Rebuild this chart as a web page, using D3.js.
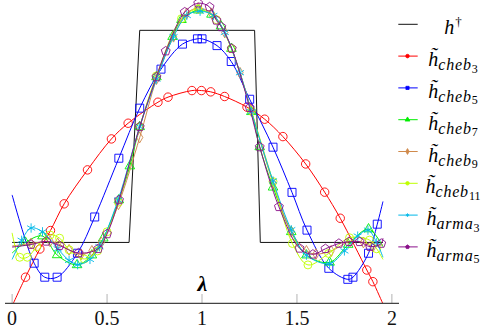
<!DOCTYPE html>
<html><head><meta charset="utf-8">
<script src="https://cdn.jsdelivr.net/npm/d3@7"></script>
<style>html,body{margin:0;padding:0;background:#fff;} svg{display:block}</style>
</head><body>
<svg id="c" width="497" height="332"></svg>
<script>
// ---------- data ----------
const xTicks = [0, 0.5, 1, 1.5, 2];
const xTickLabels = ["0", "0.5", "1", "1.5", "2"];

const stepLam = [0, 0.616, 0.672, 1.277, 1.307, 1.953];
const stepVal = [0, 0, 1, 1, 0, 0];

const cheb3Lam = [0, 0.0705, 0.146, 0.202, 0.274, 0.397, 0.523, 0.611, 0.768, 0.821, 0.947, 0.997, 1.046, 1.119, 1.237, 1.330, 1.426, 1.546, 1.646, 1.728, 1.868, 1.900, 1.953];
const cheb3Val = [-0.30, -0.164, -0.031, 0.056, 0.182, 0.342, 0.488, 0.562, 0.661, 0.685, 0.716, 0.716, 0.710, 0.688, 0.638, 0.581, 0.499, 0.370, 0.237, 0.114, -0.130, -0.185, -0.29];

const cheb5Lam = [0, 0.116, 0.172, 0.237, 0.344, 0.435, 0.562, 0.672, 0.784, 0.897, 0.976, 1.0, 1.079, 1.154, 1.251, 1.374, 1.474, 1.553, 1.668, 1.768, 1.795, 1.877, 1.923, 1.953];
const cheb5Val = [0.224, -0.098, -0.164, -0.164, -0.051, 0.120, 0.397, 0.633, 0.817, 0.935, 0.960, 0.960, 0.928, 0.853, 0.675, 0.449, 0.236, 0.058, -0.122, -0.174, -0.164, -0.051, 0.086, 0.193];

const cheb7Lam = [0, 0.07, 0.16, 0.237, 0.342, 0.42, 0.48, 0.562, 0.62, 0.672, 0.76, 0.845, 0.892, 0.98, 1.05, 1.1, 1.155, 1.26, 1.304, 1.374, 1.47, 1.55, 1.672, 1.77, 1.877, 1.953];
const cheb7Val = [-0.05, 0.0, 0.03, -0.059, -0.106, -0.06, 0.02, 0.2, 0.36, 0.545, 0.78, 0.97, 1.05, 1.095, 1.075, 1.02, 0.914, 0.616, 0.45, 0.26, 0.05, -0.06, -0.094, -0.01, 0.063, -0.02];

const cheb9Lam = [0, 0.1, 0.2, 0.24, 0.3, 0.363, 0.42, 0.47, 0.56, 0.672, 0.76, 0.85, 0.92, 0.98, 1.05, 1.12, 1.2, 1.26, 1.374, 1.47, 1.55, 1.6, 1.68, 1.78, 1.85, 1.9, 1.953];
const cheb9Val = [-0.017, -0.005, 0.005, -0.005, -0.035, -0.057, -0.04, 0.0, 0.18, 0.495, 0.77, 0.97, 1.08, 1.105, 1.08, 0.99, 0.8, 0.62, 0.28, 0.05, -0.04, -0.055, -0.04, 0.005, 0.0, -0.02, -0.01];

const cheb11Lam = [0, 0.04, 0.08, 0.13, 0.2, 0.25, 0.3, 0.38, 0.45, 0.5, 0.56, 0.672, 0.76, 0.892, 0.98, 1.076, 1.155, 1.26, 1.374, 1.476, 1.558, 1.667, 1.777, 1.882, 1.92, 1.953];
const cheb11Val = [0.045, -0.07, -0.07, -0.02, 0.035, 0.02, -0.035, -0.078, -0.04, 0.05, 0.19, 0.545, 0.785, 1.055, 1.1, 1.05, 0.914, 0.62, 0.287, -0.005, -0.106, -0.052, 0.022, 0.011, -0.03, -0.08];

const arma3Lam = [0, 0.05, 0.1, 0.16, 0.24, 0.3, 0.345, 0.41, 0.46, 0.558, 0.672, 0.76, 0.85, 0.92, 0.99, 1.06, 1.12, 1.2, 1.26, 1.374, 1.47, 1.55, 1.672, 1.75, 1.82, 1.874, 1.92, 1.953];
const arma3Val = [-0.08, 0.01, 0.068, 0.05, -0.03, -0.085, -0.105, -0.08, -0.02, 0.2, 0.545, 0.77, 0.97, 1.07, 1.09, 1.07, 0.99, 0.8, 0.616, 0.29, 0.06, -0.06, -0.1, -0.04, 0.03, 0.058, 0.0, -0.07];

const arma5Lam = [0, 0.1, 0.18, 0.25, 0.35, 0.453, 0.5, 0.563, 0.672, 0.76, 0.809, 0.909, 0.98, 1.04, 1.076, 1.102, 1.157, 1.251, 1.304, 1.405, 1.514, 1.584, 1.65, 1.721, 1.774, 1.83, 1.885, 1.944, 1.953];
const arma5Val = [-0.022, -0.01, 0.005, -0.015, -0.05, -0.03, 0.04, 0.2, 0.545, 0.78, 0.902, 1.086, 1.128, 1.11, 1.047, 1.016, 0.914, 0.635, 0.45, 0.168, -0.028, -0.056, -0.03, -0.005, 0.003, 0.003, -0.02, -0.005, 0.02];

// ---------- chart ----------
const FONT = "'Liberation Serif'";
const svg = d3.select("#c");
const x = d3.scaleLinear().domain([-0.0375, 2.0375]).range([5, 399]);
const y = d3.scaleLinear().domain([-0.287, 1.143]).range([303.3, 0]);

svg.append("defs").append("clipPath").attr("id", "clip")
  .append("rect").attr("x", 5).attr("y", 0).attr("width", 394).attr("height", 303.3);

const pentagon = {
  draw(ctx, size) {
    const r = Math.sqrt(size / 2.378);
    for (let i = 0; i < 5; i++) {
      const a = -Math.PI / 2 + i * 2 * Math.PI / 5;
      const px = r * Math.cos(a), py = r * Math.sin(a);
      if (i === 0) ctx.moveTo(px, py); else ctx.lineTo(px, py);
    }
    ctx.closePath();
  }
};
const asterisk = {
  draw(ctx, size) {
    const r = Math.sqrt(size) * 0.6;
    for (let i = 0; i < 3; i++) {
      const a = Math.PI / 2 + i * Math.PI / 3;
      ctx.moveTo(r * Math.cos(a), r * Math.sin(a));
      ctx.lineTo(-r * Math.cos(a), -r * Math.sin(a));
    }
  }
};

const series = [
  {lam: cheb3Lam, val: cheb3Val, color: "#ff0000", sym: d3.symbolCircle, size: 56},
  {lam: cheb5Lam, val: cheb5Val, color: "#0000ff", sym: d3.symbolSquare, size: 64},
  {lam: cheb7Lam, val: cheb7Val, color: "#00ee00", sym: d3.symbolTriangle, size: 40},
  {lam: cheb9Lam, val: cheb9Val, color: "#d08a4c", sym: d3.symbolDiamond, size: 34},
  {lam: cheb11Lam, val: cheb11Val, color: "#bfff00", sym: d3.symbolCircle, size: 50},
  {lam: arma3Lam, val: arma3Val, color: "#00b8e8", sym: asterisk, size: 60},
  {lam: arma5Lam, val: arma5Val, color: "#8a108a", sym: pentagon, size: 52}
];

const plot = svg.append("g").attr("clip-path", "url(#clip)");

plot.append("path")
  .datum(stepLam.map((l, i) => [l, stepVal[i]]))
  .attr("fill", "none").attr("stroke", "#111").attr("stroke-width", 1)
  .attr("d", d3.line().x(d => x(d[0])).y(d => y(d[1])));

const line = d3.line().x(d => x(d[0])).y(d => y(d[1])).curve(d3.curveCatmullRom.alpha(0.5));
series.forEach(s => {
  const pts = s.lam.map((l, i) => [l, s.val[i]]);
  plot.append("path").datum(pts)
    .attr("fill", "none").attr("stroke", s.color).attr("stroke-width", 1)
    .attr("d", line);
  plot.selectAll(null).data(pts.slice(1, -1)).enter().append("path")
    .attr("transform", d => `translate(${x(d[0])},${y(d[1])})`)
    .attr("d", d3.symbol().type(s.sym).size(s.size))
    .attr("fill", "none").attr("stroke", s.color).attr("stroke-width", 0.9);
});

// x axis
const ax = svg.append("g");
ax.selectAll("line.tick").data(xTicks).enter().append("line")
  .attr("x1", d => x(d)).attr("x2", d => x(d)).attr("y1", 294).attr("y2", 303.3)
  .attr("stroke", "#aaa").attr("stroke-width", 0.9);
ax.append("line").attr("x1", x.range()[0]).attr("x2", x.range()[1])
  .attr("y1", 303.3).attr("y2", 303.3).attr("stroke", "#444").attr("stroke-width", 1.3);
ax.selectAll("text").data(xTicks).enter().append("text")
  .attr("x", d => x(d)).attr("y", 325).attr("text-anchor", "middle")
  .style("font-family", FONT).style("font-size", "20px").attr("fill", "#111")
  .text((d, i) => xTickLabels[i]);
svg.append("text").attr("x", 202.5).attr("y", 291).attr("text-anchor", "middle")
  .style("font-family", FONT).style("font-size", "22px").style("font-weight", "bold")
  .style("font-style", "italic").attr("fill", "#000").text("λ");

// legend
const legendItems = [
  {sub: null, subsub: null},
  {sub: "cheb", subsub: "3"}, {sub: "cheb", subsub: "5"}, {sub: "cheb", subsub: "7"},
  {sub: "cheb", subsub: "9"}, {sub: "cheb", subsub: "11"},
  {sub: "arma", subsub: "3"}, {sub: "arma", subsub: "5"}
];
const lg = svg.append("g");
legendItems.forEach((it, i) => {
  const cy = 24.3 + i * 31.8;
  const s = i > 0 ? series[i - 1] : null;
  const col = s ? s.color : "#111";
  lg.append("line").attr("x1", 398.3).attr("x2", 417.7).attr("y1", cy).attr("y2", cy)
    .attr("stroke", col).attr("stroke-width", 1);
  if (s) {
    lg.append("path").attr("transform", `translate(407.5,${cy})`)
      .attr("d", d3.symbol().type(s.sym).size(10))
      .attr("fill", col).attr("stroke", col).attr("stroke-width", 0.8);
  }
  const t = lg.append("text").attr("x", 453).attr("y", cy + 10)
    .attr("text-anchor", "middle").style("font-family", FONT)
    .style("font-style", "italic").attr("fill", "#000");
  if (i === 0) {
    t.append("tspan").style("font-size", "20px").text("h");
    t.append("tspan").style("font-size", "13px").style("font-style", "normal").attr("dy", -8).attr("dx", 1).text("†");
  } else {
    t.append("tspan").style("font-size", "20px").text("h\u0303");
    t.append("tspan").style("font-size", "16px").attr("dy", 4).attr("letter-spacing", 0.8).text(it.sub);
    t.append("tspan").style("font-size", "12px").style("font-style", "normal").attr("dy", 2.5).text(it.subsub);
  }
});
</script>
</body></html>
